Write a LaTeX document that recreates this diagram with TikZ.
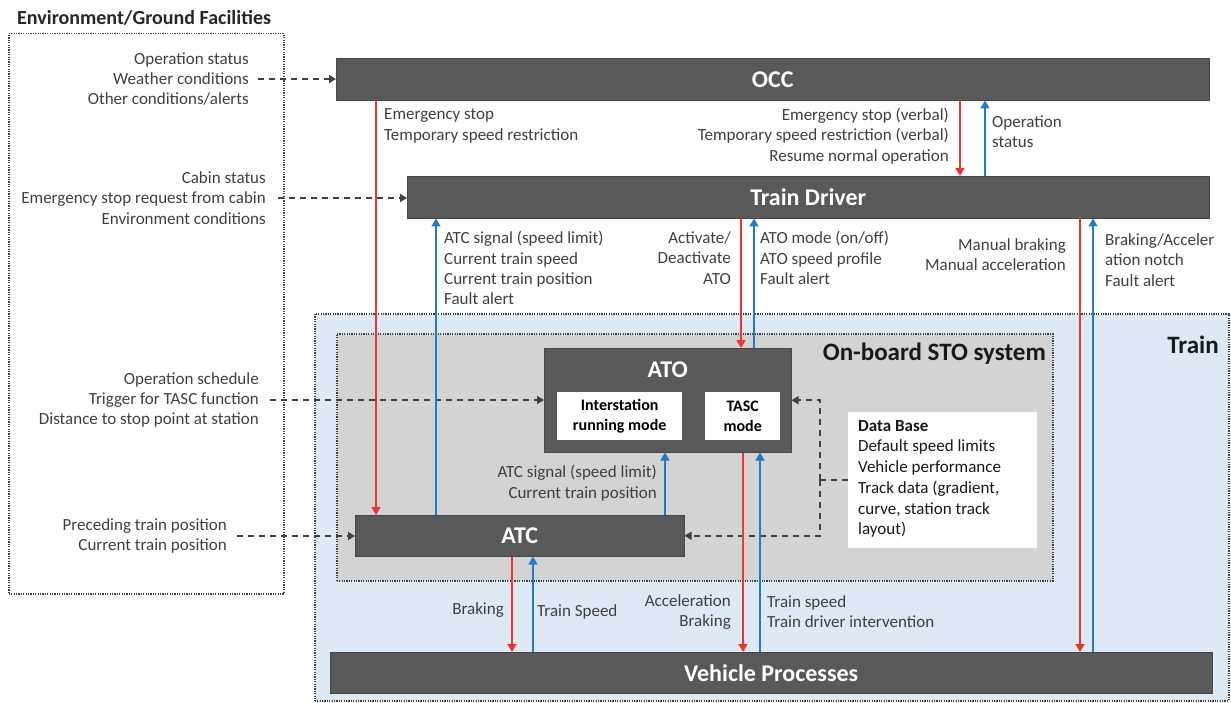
\documentclass[tikz,border=0pt]{standalone}
\usepackage{fontspec}
\setmainfont{Carlito}
\usetikzlibrary{arrows.meta,calc}
\definecolor{boxgrey}{HTML}{595959}
\definecolor{stogrey}{HTML}{D3D3D3}
\definecolor{trainblue}{HTML}{DDEAF6}
\definecolor{sigred}{HTML}{EC3431}
\definecolor{sigblue}{HTML}{2479C4}
\definecolor{txtgrey}{HTML}{3F3F3F}
\definecolor{bordgrey}{HTML}{404040}
\tikzset{
  region/.style={draw=bordgrey, line width=1.5pt, dash pattern=on 1.2pt off 1.2pt, inner sep=0pt, anchor=north west},
  darkbox/.style={fill=boxgrey, draw=boxgrey!80!black, line width=0.5pt, inner sep=0pt, anchor=north west},
  whitebox/.style={fill=white, inner sep=0pt, anchor=north west},
  boxtext/.style={text=white, font=\fontsize{24}{28}\selectfont\bfseries},
  lbl/.style={text=txtgrey, inner sep=0pt, font=\fontsize{17}{20.3}\selectfont},
  heading/.style={text=black!90, inner sep=0pt, font=\fontsize{25}{30}\selectfont\bfseries},
  redarr/.style={draw=sigred, line width=1.6pt, -{Triangle[width=9pt,length=8pt]}},
  bluearr/.style={draw=sigblue, line width=1.6pt, -{Triangle[width=9pt,length=8pt]}},
  dasharr/.style={draw=bordgrey, line width=1.6pt, dash pattern=on 6pt off 5pt, -{Triangle[width=8pt,length=7pt]}},
  dashline/.style={draw=bordgrey, line width=1.6pt, dash pattern=on 6pt off 5pt}
}
\begin{document}
\begin{tikzpicture}[x=1pt,y=-1pt]
\useasboundingbox (0,0) rectangle (1231,703);

% regions
\node[region, minimum width=275, minimum height=560] (env) at (8,33) {};
\node[region, fill=trainblue, minimum width=914, minimum height=387] (train) at (314,313) {};
\node[region, fill=stogrey, minimum width=716, minimum height=247] (sto) at (336,333) {};

\node[anchor=west, inner sep=0pt, text=black!85, font=\fontsize{20}{24}\selectfont\bfseries] (envtitle) at (17,18) {Environment/Ground Facilities};
\node[heading] (traintitle) at (1193,345) {Train};
\node[heading, anchor=east] (stotitle) at (1046,354) {On-board STO system};

% main blocks
\node[darkbox, minimum width=873, minimum height=42] (occ) at (336,58) {};
\node[boxtext] at (occ.center) {OCC};
\node[darkbox, minimum width=802, minimum height=42] (drv) at (407,176) {};
\node[boxtext] at (drv.center) {Train Driver};
\node[darkbox, minimum width=247, minimum height=104] (ato) at (544,348) {};
\node[boxtext] at ($(ato.north)+(0,22)$) {ATO};
\node[whitebox, minimum width=125, minimum height=48, align=center,
      font=\fontsize{16}{20}\selectfont\bfseries] (ism) at (557,392) {Interstation\\running mode};
\node[whitebox, minimum width=75, minimum height=48, align=center,
      font=\fontsize{16}{20}\selectfont\bfseries] (tasc) at (705,392) {TASC\\mode};
\node[darkbox, minimum width=329, minimum height=41] (atc) at (355,515) {};
\node[boxtext] at (atc.center) {ATC};
\node[whitebox, minimum width=189, minimum height=136] (db) at (848,412) {};
\node[lbl, text=black!90, anchor=north west, align=left, font=\fontsize{17}{20.7}\selectfont] (dbtext) at (858,420)
  {\textbf{Data Base}\\Default speed limits\\Vehicle performance\\Track data (gradient,\\curve, station track\\layout)};
\node[darkbox, minimum width=882, minimum height=41] (vp) at (330,652) {};
\node[boxtext] at (vp.center) {Vehicle Processes};

% external inputs
\node[lbl, anchor=east, align=right] (e1) at (249,79) {Operation status\\Weather conditions\\Other conditions/alerts};
\node[lbl, anchor=east, align=right] (e2) at (266,198) {Cabin status\\Emergency stop request from cabin\\Environment conditions};
\node[lbl, anchor=east, align=right] (e3) at (259,400) {Operation schedule\\Trigger for TASC function\\Distance to stop point at station};
\node[lbl, anchor=east, align=right] (e4) at (227,536) {Preceding train position\\Current train position};

\draw[dasharr] ([xshift=9pt]e1.east) -- (e1.east -| occ.west);
\draw[dasharr] ([xshift=12pt]e2.east) -- (e2.east -| drv.west);
\draw[dasharr] ([xshift=11pt]e3.east) -- (e3.east -| ato.west);
\draw[dasharr] ([xshift=10pt]e4.east) -- (e4.east -| atc.west);

% data base links
\draw[dashline] (db.west) -- ++(-28,0) coordinate (dbj);
\draw[dasharr] (dbj) |- (ato.east);
\draw[dasharr] (dbj) |- (atc.east);

% OCC <-> driver / ATC
\draw[redarr] (occ.south -| 376,0) -- (atc.north -| 376,0);
\node[lbl, anchor=west, align=left] (l1) at (384,126) {Emergency stop\\Temporary speed restriction};
\draw[redarr] (occ.south -| 960,0) -- (drv.north -| 960,0);
\node[lbl, anchor=east, align=right] (l2) at (949,136) {Emergency stop (verbal)\\Temporary speed restriction (verbal)\\Resume normal operation};
\draw[bluearr] (drv.north -| 985,0) -- (occ.south -| 985,0);
\node[lbl, anchor=west, align=left] (l3) at (992,132) {Operation\\status};

% driver <-> ATC / ATO / vehicle
\draw[bluearr] (atc.north -| 436,0) -- (drv.south -| 436,0);
\node[lbl, anchor=west, align=left] (l4) at (444,268) {ATC signal (speed limit)\\Current train speed\\Current train position\\Fault alert};
\draw[redarr] (drv.south -| 741,0) -- (ato.north -| 741,0);
\node[lbl, anchor=east, align=right] (l5) at (731,258) {Activate/\\Deactivate\\ATO};
\draw[bluearr] (ato.north -| 754,0) -- (drv.south -| 754,0);
\node[lbl, anchor=west, align=left] (l6) at (760,258) {ATO mode (on/off)\\ATO speed profile\\Fault alert};
\draw[redarr] (drv.south -| 1080,0) -- (vp.north -| 1080,0);
\node[lbl, anchor=east, align=right] (l7) at (1066,255) {Manual braking\\Manual acceleration};
\draw[bluearr] (vp.north -| 1093,0) -- (drv.south -| 1093,0);
\node[lbl, anchor=west, align=left] (l8) at (1105,260) {Braking/Acceler\\ation notch\\Fault alert};

% ATC -> ATO
\draw[bluearr] (atc.north -| 665,0) -- (ato.south -| 665,0);
\node[lbl, anchor=east, align=right] (l9) at (657,483) {ATC signal (speed limit)\\Current train position};

% ATO / ATC <-> vehicle
\draw[redarr] (ato.south -| 743,0) -- (vp.north -| 743,0);
\node[lbl, anchor=east, align=right] (l10) at (731,612) {Acceleration\\Braking};
\draw[bluearr] (vp.north -| 760,0) -- (ato.south -| 760,0);
\node[lbl, anchor=west, align=left] (l11) at (767,612) {Train speed\\Train driver intervention};
\draw[redarr] (atc.south -| 512,0) -- (vp.north -| 512,0);
\node[lbl, anchor=east] (l12) at (504,610) {Braking};
\draw[bluearr] (vp.north -| 533,0) -- (atc.south -| 533,0);
\node[lbl, anchor=west] (l13) at (537,612) {Train Speed};
\end{tikzpicture}
\end{document}
